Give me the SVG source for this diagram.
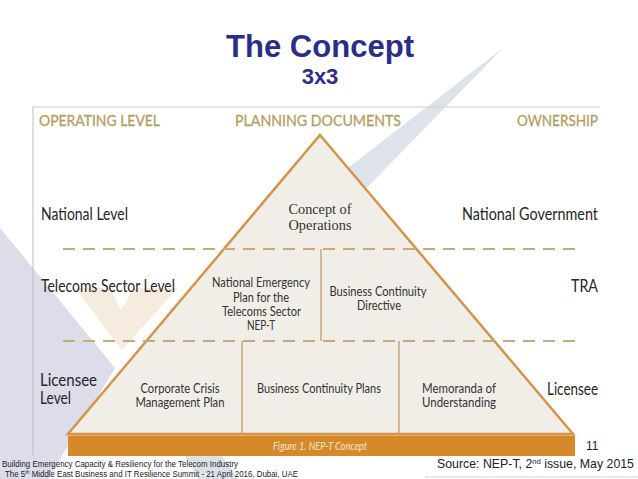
<svg xmlns="http://www.w3.org/2000/svg" width="638" height="479" viewBox="0 0 638 479">
<style>
.hdr{font-family:Lato,"Open Sans","DejaVu Sans",sans-serif;font-size:16px;fill:#b49d5e;stroke:#b49d5e;stroke-width:0.3;}
.lvl{font-family:Lato,"Open Sans","DejaVu Sans",sans-serif;font-size:16.5px;fill:#262626;}
.doc{font-family:Lato,"Open Sans","DejaVu Sans",sans-serif;font-size:13.5px;fill:#333;text-anchor:middle;}
.ser{font-family:"Liberation Serif","DejaVu Serif",serif;font-size:14.5px;fill:#333;text-anchor:middle;}
.dash{stroke:#c9a87a;stroke-width:2;stroke-dasharray:12 8;fill:none;}
.div{stroke:#c9a679;stroke-width:1.5;fill:none;}
.foot{font-family:"Liberation Sans",Arial,sans-serif;fill:#222;}
</style>
<rect width="638" height="479" fill="#ffffff"/>
<g id="watermark">
  <polygon points="503,48 350,205 300,205" fill="#dde3eb"/>
  <polygon points="0,228 115,368 48,479 0,479" fill="#dcdcea"/>
  <polygon points="75,288 110,288 121,310 134,288 178,288 122,350" fill="#f5ecdf"/>
  <polygon points="185,456 222,456 238,479 198,479" fill="#dde2ea"/>
</g>
<g id="frame">
  <line x1="33" y1="107" x2="600" y2="107" stroke="#cfcfcf" stroke-width="1"/>
  <line x1="33" y1="107" x2="33" y2="455" stroke="#bdbdbd" stroke-width="1"/>
</g>
<g id="title">
  <text x="320" y="57" text-anchor="middle" font-family="'Liberation Sans',Arial,sans-serif" font-weight="bold" font-size="31" fill="#2b2d87" textLength="188" lengthAdjust="spacingAndGlyphs">The Concept</text>
  <text x="320" y="84" text-anchor="middle" font-family="'Liberation Sans',Arial,sans-serif" font-weight="bold" font-size="22" fill="#2b2d87">3x3</text>
</g>
<g id="headers">
  <text class="hdr" x="39" y="126" textLength="121" lengthAdjust="spacingAndGlyphs">OPERATING LEVEL</text>
  <text class="hdr" x="235" y="126" textLength="166" lengthAdjust="spacingAndGlyphs">PLANNING DOCUMENTS</text>
  <text class="hdr" x="517" y="126" textLength="81" lengthAdjust="spacingAndGlyphs">OWNERSHIP</text>
</g>
<g id="pyramid">
  <polygon points="320,135 573,434 68,434" fill="#f1eee8" stroke="#d4944a" stroke-width="2.5" stroke-linejoin="miter"/>
</g>
<g id="connectors">
  <line class="dash" x1="63" y1="249" x2="580" y2="249"/>
  <line class="dash" x1="63" y1="341" x2="580" y2="341"/>
  <line class="div" x1="321" y1="249" x2="321" y2="341"/>
  <line class="div" x1="242" y1="341" x2="242" y2="434"/>
  <line class="div" x1="399" y1="341" x2="399" y2="434"/>
</g>
<g id="level-labels">
  <text class="lvl" x="41" y="220" textLength="87" lengthAdjust="spacingAndGlyphs">National Level</text>
  <text class="lvl" x="41" y="292" textLength="134" lengthAdjust="spacingAndGlyphs">Telecoms Sector Level</text>
  <text class="lvl" x="40" y="386" font-size="17" textLength="57" lengthAdjust="spacingAndGlyphs">Licensee</text>
  <text class="lvl" x="40" y="404" font-size="17" textLength="31" lengthAdjust="spacingAndGlyphs">Level</text>
</g>
<g id="owner-labels">
  <text class="lvl" x="462" y="220" textLength="136" lengthAdjust="spacingAndGlyphs">National Government</text>
  <text class="lvl" x="571" y="292" textLength="27" lengthAdjust="spacingAndGlyphs">TRA</text>
  <text class="lvl" x="547" y="395" textLength="51" lengthAdjust="spacingAndGlyphs">Licensee</text>
</g>
<g id="node-conops">
  <text class="ser" x="320" y="214" textLength="63" lengthAdjust="spacingAndGlyphs">Concept of</text>
  <text class="ser" x="320" y="230" textLength="63" lengthAdjust="spacingAndGlyphs">Operations</text>
</g>
<g id="node-nept">
  <text class="doc" x="261" y="287" textLength="98" lengthAdjust="spacingAndGlyphs">National Emergency</text>
  <text class="doc" x="261" y="302" textLength="56" lengthAdjust="spacingAndGlyphs">Plan for the</text>
  <text class="doc" x="261.5" y="316" textLength="79" lengthAdjust="spacingAndGlyphs">Telecoms Sector</text>
  <text class="doc" x="261" y="330" textLength="28" lengthAdjust="spacingAndGlyphs">NEP-T</text>
</g>
<g id="node-bcd">
  <text class="doc" x="378" y="296" textLength="97" lengthAdjust="spacingAndGlyphs">Business Continuity</text>
  <text class="doc" x="379" y="310" textLength="44" lengthAdjust="spacingAndGlyphs">Directive</text>
</g>
<g id="node-ccmp">
  <text class="doc" x="180" y="393" textLength="79" lengthAdjust="spacingAndGlyphs">Corporate Crisis</text>
  <text class="doc" x="180" y="407" textLength="89" lengthAdjust="spacingAndGlyphs">Management Plan</text>
</g>
<g id="node-bcp">
  <text class="doc" x="319" y="393" textLength="124" lengthAdjust="spacingAndGlyphs">Business Continuity Plans</text>
</g>
<g id="node-mou">
  <text class="doc" x="459" y="393" textLength="74" lengthAdjust="spacingAndGlyphs">Memoranda of</text>
  <text class="doc" x="459" y="407" textLength="74" lengthAdjust="spacingAndGlyphs">Understanding</text>
</g>
<g id="caption-bar">
  <rect x="68" y="435" width="507" height="21" fill="#d6892b"/>
  <line x1="68" y1="435.5" x2="575" y2="435.5" stroke="#e8b06a" stroke-width="1"/>
  <text x="320" y="449.5" text-anchor="middle" font-family="Lato,'Open Sans',sans-serif" font-style="italic" font-size="10.5" fill="#f7e6cc" textLength="94" lengthAdjust="spacingAndGlyphs">Figure 1. NEP-T Concept</text>
</g>
<g id="footer">
  <text class="foot" x="586" y="450" font-size="12">11</text>
  <text class="foot" x="437" y="468" font-size="13" textLength="197" lengthAdjust="spacingAndGlyphs">Source: NEP-T, 2<tspan font-size="8" dy="-4">nd</tspan><tspan dy="4"> issue, May 2015</tspan></text>
  <line x1="425" y1="477" x2="638" y2="477" stroke="#d3d3d3" stroke-width="1"/>
  <text class="foot" x="2" y="467" font-size="8.5" textLength="236" lengthAdjust="spacingAndGlyphs">Building Emergency Capacity &amp; Resiliency for the Telecom Industry</text>
  <text class="foot" x="5" y="477" font-size="8.5" textLength="293" lengthAdjust="spacingAndGlyphs">The 5<tspan font-size="5.5" dy="-3">th</tspan><tspan dy="3"> Middle East Business and IT Resilience Summit - 21 April 2016, Dubai, UAE</tspan></text>
</g>
</svg>
